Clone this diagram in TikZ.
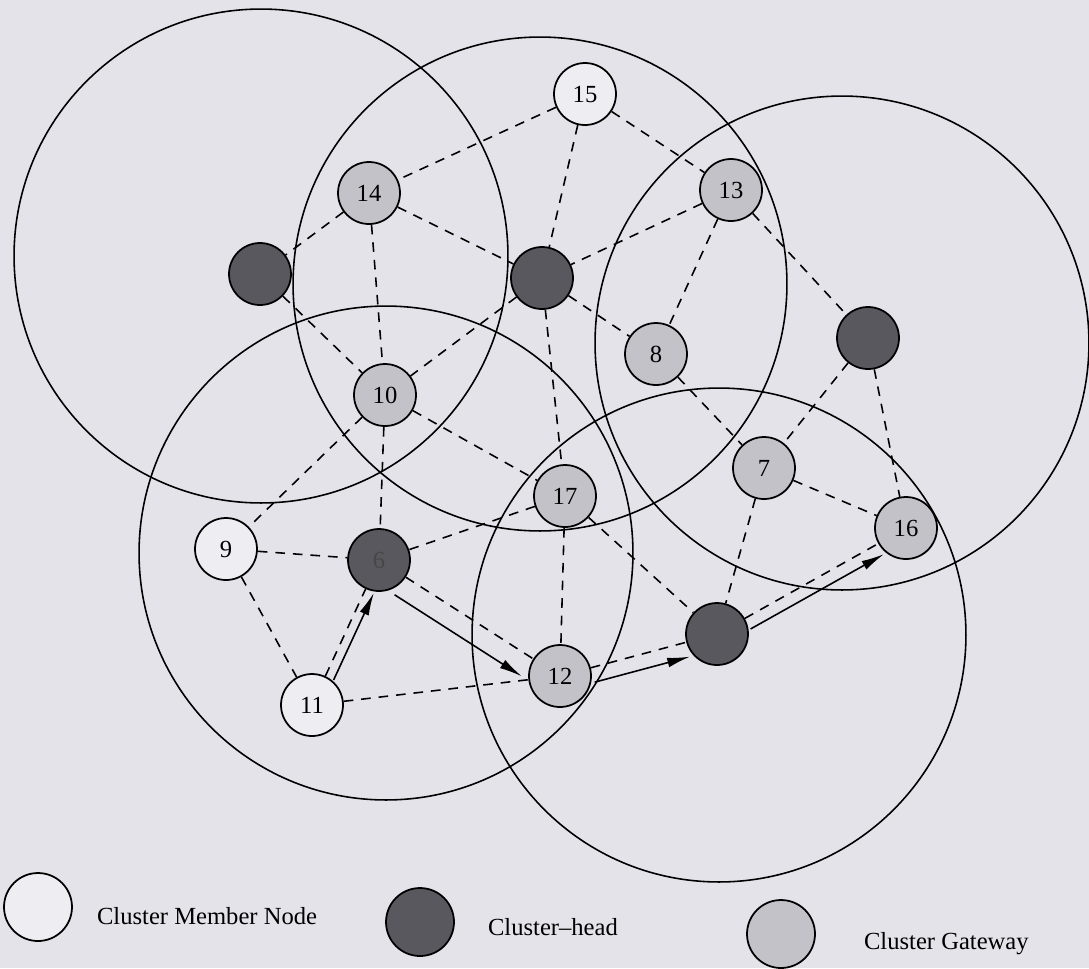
\documentclass[tikz,border=0pt]{standalone}
\usepackage{fontspec}
\setmainfont{Liberation Serif}
\usetikzlibrary{positioning, arrows.meta}

\definecolor{paper}{RGB}{229,227,234}
\definecolor{headfill}{RGB}{88,88,94}
\definecolor{gatefill}{RGB}{196,194,201}
\definecolor{memberfill}{RGB}{238,237,242}

\begin{document}
\begin{tikzpicture}[
  x=0.02cm, y=-0.02cm,
  font=\fontsize{14}{16}\selectfont,
  station/.style={circle, draw, line width=1pt, minimum size=1.24cm, inner sep=0pt},
  member/.style={station, fill=memberfill},
  head/.style={station, fill=headfill, text=black!72},
  gateway/.style={station, fill=gatefill},
  reach/.style={line width=0.9pt},
  link/.style={line width=0.9pt, dash pattern=on 5.5pt off 4.5pt},
  route/.style={-{Latex[length=13pt, width=5.5pt]}, line width=0.9pt},
  keytext/.style={font=\fontsize{14}{16}\selectfont}
]

\useasboundingbox (0,0) rectangle (1089,968);
\fill[paper] (0,0) rectangle (1089,968);

% --- Alcance dos clusters ---
\draw[reach] (261,256) circle (4.94cm);
\draw[reach] (540,284) circle (4.94cm);
\draw[reach] (842,343) circle (4.94cm);
\draw[reach] (386,553) circle (4.94cm);
\draw[reach] (719,635) circle (4.94cm);

% --- Nos ---
\node[member]  (n15) at (585,94)  {15};
\node[gateway] (n14) at (369,193) {14};
\node[gateway] (n13) at (731,190) {13};
\node[head]    (hA)  at (260,274) {};
\node[head]    (hB)  at (542,278) {};
\node[gateway] (n8)  at (656,354) {8};
\node[head]    (hC)  at (868,338) {};
\node[gateway] (n10) at (385,395) {10};
\node[gateway] (n7)  at (764,468) {7};
\node[gateway] (n17) at (565,496) {17};
\node[gateway] (n16) at (906,528) {16};
\node[member]  (n9)  at (226,549) {9};
\node[head]    (h6)  at (379,560) {6};
\node[gateway] (n12) at (560,676) {12};
\node[head]    (hD)  at (717,634) {};
\node[member]  (n11) at (312,705) {11};

% --- Enlaces ---
\draw[link] (n15) -- (n14);
\draw[link] (n15) -- (n13);
\draw[link] (n15) -- (hB);
\draw[link] (n14) -- (hA);
\draw[link] (n14) -- (hB);
\draw[link] (n14) -- (n10);
\draw[link] (n13) -- (hB);
\draw[link] (n13) -- (n8);
\draw[link] (n13) -- (hC);
\draw[link] (hA) -- (n10);
\draw[link] (hB) -- (n10);
\draw[link] (hB) -- (n8);
\draw[link] (hB) -- (n17);
\draw[link] (n8) -- (n7);
\draw[link] (hC) -- (n7);
\draw[link] (hC) -- (n16);
\draw[link] (n10) -- (n9);
\draw[link] (n10) -- (n17);
\draw[link] (n10) -- (h6);
\draw[link] (n17) -- (h6);
\draw[link] (n17) -- (n12);
\draw[link] (n17) -- (hD);
\draw[link] (n7) -- (hD);
\draw[link] (n7) -- (n16);
\draw[link] (n9) -- (h6);
\draw[link] (n9) -- (n11);
\draw[link] (n11) -- (h6);
\draw[link] (h6) -- (n12);
\draw[link] (n11) -- (n12);
\draw[link] (n12) -- (hD);
\draw[link] (hD) -- (n16);

% --- Rota ---
\draw[route, transform canvas={xshift=4.7pt, yshift=-2.2pt}] (n11) -- (h6);
\draw[route, transform canvas={xshift=-6.4pt, yshift=-10pt}] (h6) -- (n12);
\draw[route, transform canvas={xshift=2.2pt, yshift=-8.2pt}] (n12) -- (hD);
\draw[route, transform canvas={xshift=3.3pt, yshift=-6pt}] (hD) -- (n16);

% --- Legenda ---
\node[member, minimum size=1.36cm] (keymember) at (38,907) {};
\node[keytext, right=0.36cm of keymember, yshift=-0.18cm] (keymembertext) {Cluster Member Node};
\node[head, minimum size=1.36cm] (keyhead) at (420,922) {};
\node[keytext, right=0.54cm of keyhead, yshift=-0.1cm] (keyheadtext) {Cluster--head};
\node[gateway, minimum size=1.36cm] (keygate) at (781,934) {};
\node[keytext, right=0.84cm of keygate, yshift=-0.2cm] (keygatetext) {Cluster Gateway};

\end{tikzpicture}
\end{document}
